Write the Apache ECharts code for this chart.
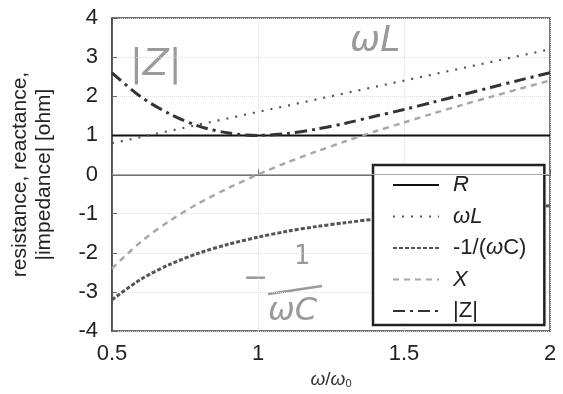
<!DOCTYPE html>
<html>
<head>
<meta charset="utf-8">
<script src="https://cdn.jsdelivr.net/npm/echarts@6/dist/echarts.min.js"></script>
<style>
  html, body { margin: 0; padding: 0; background: #fff; }
  #chart { width: 563px; height: 394px; }
</style>
</head>
<body>
<div id="chart"></div>
<script>
// values
const omega = [0.5, 0.6, 0.7, 0.8, 0.9, 1.0, 1.1, 1.2, 1.3, 1.4, 1.5, 1.6, 1.7, 1.8, 1.9, 2.0];
const rValues = [1, 1, 1, 1, 1, 1, 1, 1, 1, 1, 1, 1, 1, 1, 1, 1];
const wlValues = [0.80, 0.96, 1.12, 1.28, 1.44, 1.60, 1.76, 1.92, 2.08, 2.24, 2.40, 2.56, 2.72, 2.88, 3.04, 3.20];
const wcValues = [-3.20, -2.67, -2.29, -2.00, -1.78, -1.60, -1.45, -1.33, -1.23, -1.14, -1.07, -1.00, -0.94, -0.89, -0.84, -0.80];
const xValues = [-2.40, -1.71, -1.17, -0.72, -0.34, 0.00, 0.31, 0.59, 0.85, 1.10, 1.33, 1.56, 1.78, 1.99, 2.20, 2.40];
const zValues = [2.60, 1.98, 1.54, 1.23, 1.06, 1.00, 1.05, 1.16, 1.31, 1.49, 1.66, 1.85, 2.04, 2.23, 2.42, 2.60];

const names = ['R', 'ωL', '-1/(ωC)', 'X', '|Z|'];
const legendLabels = {
  'R': '{i|R}',
  'ωL': '{i|ωL}',
  '-1/(ωC)': '-1/({i|ω}C)',
  'X': '{i|X}',
  '|Z|': '|Z|'
};

const pairs = vals => omega.map((w, i) => [w, vals[i]]);
const font = '"Liberation Sans", Arial, sans-serif';

const chart = echarts.init(document.getElementById('chart'));
chart.setOption({
  animation: false,
  backgroundColor: '#fff',
  grid: {
    left: 112, right: 13, top: 18, bottom: 57,
    show: true, borderColor: '#444', borderWidth: 1.5
  },
  xAxis: {
    type: 'value',
    min: 0.5, max: 2, interval: 0.5,
    name: '{i|ω}/{i|ω}{sub|0}',
    nameLocation: 'middle',
    nameGap: 30,
    nameTextStyle: {
      fontFamily: font, fontSize: 19, color: '#333',
      rich: {
        i: { fontStyle: 'italic', fontFamily: font, fontSize: 19, color: '#333' },
        sub: { fontSize: 11, verticalAlign: 'bottom', padding: [8, 0, 0, 0], fontFamily: font, color: '#333' }
      }
    },
    axisLine: { lineStyle: { color: '#444', width: 1.5 } },
    axisTick: { inside: true, length: 5, lineStyle: { color: '#666' } },
    axisLabel: {
      fontFamily: font, fontSize: 22, color: '#222', margin: 12,
      formatter: v => String(v)
    },
    splitLine: { show: true, lineStyle: { color: '#ddd', type: 'dotted' } }
  },
  yAxis: {
    type: 'value',
    min: -4, max: 4, interval: 1,
    name: 'resistance, reactance,\n|impedance| [ohm]',
    nameLocation: 'middle',
    nameGap: 56,
    nameTextStyle: { fontFamily: font, fontSize: 21, color: '#222', lineHeight: 24 },
    axisLine: { lineStyle: { color: '#444', width: 1.5 } },
    axisTick: { inside: true, length: 5, lineStyle: { color: '#666' } },
    axisLabel: { fontFamily: font, fontSize: 22, color: '#222', margin: 14 },
    splitLine: { show: true, lineStyle: { color: '#ddd', type: 'dotted' } }
  },
  legend: {
    data: names,
    orient: 'vertical',
    left: 373, top: 165,
    padding: [9, 18, 3, 19],
    itemWidth: 46, itemHeight: 14, itemGap: 9.5,
    backgroundColor: '#fff',
    borderColor: '#222', borderWidth: 2.5,
    itemStyle: { opacity: 0 },
    formatter: n => legendLabels[n],
    textStyle: {
      fontFamily: font, fontSize: 22, lineHeight: 22, color: '#222', padding: [0, 0, 0, 9],
      rich: { i: { fontStyle: 'italic', fontFamily: font, fontSize: 22, lineHeight: 22, color: '#222' } }
    }
  },
  series: [
    {
      name: 'R', type: 'line', data: pairs(rValues), symbol: 'none',
      lineStyle: { color: '#111', width: 2 }, itemStyle: { color: '#111' },
      markLine: {
        silent: true, symbol: 'none', label: { show: false },
        lineStyle: { color: '#aaa', type: 'solid', width: 1 },
        data: [{ yAxis: 0 }]
      }
    },
    {
      name: 'ωL', type: 'line', data: pairs(wlValues), symbol: 'none',
      lineStyle: { color: '#555', width: 2.2, type: [2, 7] }, itemStyle: { color: '#555' }
    },
    {
      name: '-1/(ωC)', type: 'line', data: pairs(wcValues), symbol: 'none', smooth: 0.3,
      lineStyle: { color: '#555', width: 3, type: [4, 2] }, itemStyle: { color: '#555' }
    },
    {
      name: 'X', type: 'line', data: pairs(xValues), symbol: 'none', smooth: 0.3,
      lineStyle: { color: '#a8a8a8', width: 2.5, type: [6, 5] }, itemStyle: { color: '#a8a8a8' }
    },
    {
      name: '|Z|', type: 'line', data: pairs(zValues), symbol: 'none', smooth: 0.3,
      lineStyle: { color: '#333', width: 3, type: [12, 5, 3, 5] }, itemStyle: { color: '#333' }
    }
  ],
  graphic: [
    { type: 'text', left: 130, top: 46, style: { text: '|Z|', fontFamily: '"DejaVu Sans"', fontStyle: 'italic', fontSize: 38, fill: '#9a9a9a' } },
    { type: 'text', left: 350, top: 24, style: { text: 'ωL', fontFamily: '"DejaVu Sans"', fontStyle: 'italic', fontSize: 36, fill: '#9a9a9a' } },
    { type: 'text', left: 243, top: 264, style: { text: '−', fontFamily: '"DejaVu Sans"', fontSize: 30, fill: '#9a9a9a' } },
    { type: 'text', left: 294, top: 244, style: { text: '1', fontFamily: '"DejaVu Sans"', fontSize: 26, fill: '#9a9a9a' } },
    { type: 'line', shape: { x1: 268, y1: 294, x2: 322, y2: 286 }, style: { stroke: '#9a9a9a', lineWidth: 2.5 } },
    { type: 'text', left: 268, top: 296, style: { text: 'ωC', fontFamily: '"DejaVu Sans"', fontStyle: 'italic', fontSize: 32, fill: '#9a9a9a' } }
  ]
});
</script>
</body>
</html>
